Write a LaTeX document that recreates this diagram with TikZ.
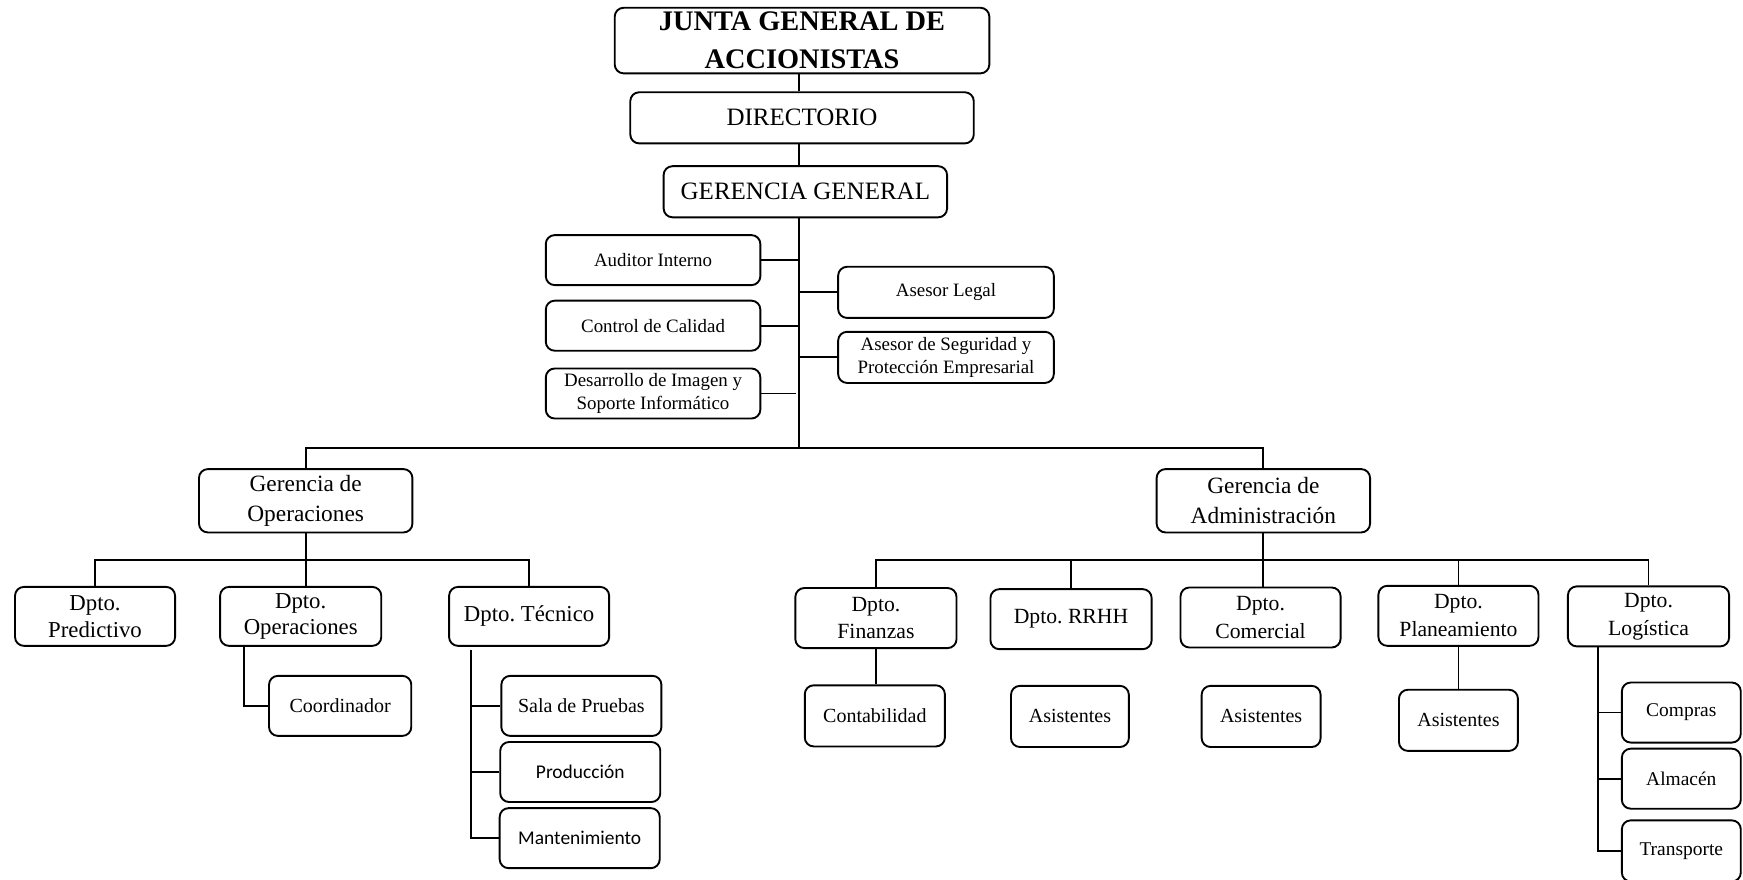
\documentclass[tikz,border=0pt]{standalone}
\usepackage{fontspec}
\setmainfont{Liberation Serif}
\newfontfamily\calibrifont{Carlito}
\usetikzlibrary{calc}
\frenchspacing
\newcommand{\fsz}[2]{\fontsize{#1}{#2}\selectfont\frenchspacing}
\tikzset{
  box/.style={draw, line width=1.7pt, rounded corners=8pt, fill=white, inner sep=0pt, align=center},
  conn/.style={line width=1.7pt},
  sz/.style 2 args={minimum width=#1pt, minimum height=#2pt}
}
\begin{document}
\begin{tikzpicture}[x=1pt,y=-1pt]
\useasboundingbox (0,0) rectangle (1568,791);
\clip (0,0) rectangle (1568,791);
\fill[white] (0,0) rectangle (1568,791);

% top
\node[box, sz={337}{59}, font=\fsz{25.5}{34.5}\bfseries] (junta) at (721.5,36.5) {JUNTA GENERAL DE\\ACCIONISTAS};
\node[box, sz={309}{46}, font=\fsz{22.5}{27}] (dir) at (721.5,106) {DIRECTORIO};
\node[box, sz={255}{46}, font=\fsz{22.5}{27}] (gg) at (724.5,172.5) {GERENCIA GENERAL};

% staff
\node[box, sz={193}{45}, font=\fsz{17}{20}] (aud) at (587.5,234) {Auditor Interno};
\node[box, sz={193}{45}, font=\fsz{17}{20}] (cal) at (587.5,293) {Control de Calidad};
\node[box, sz={193}{45}, font=\fsz{17}{20.5}] (des) at (587.5,354) {Desarrollo de Imagen y\\Soporte Informático};
\node[box, sz={194}{46}, font=\fsz{17}{20}] (legal) at (851,263) {Asesor Legal};
\node[box, sz={194}{46}, font=\fsz{17}{21}] (seg) at (851,321.5) {Asesor de Seguridad y\\Protección Empresarial};

% gerencias
\node[box, sz={192}{57}, font=\fsz{21}{27}] (gop) at (275,450.5) {Gerencia de\\Operaciones};
\node[box, sz={192}{57}, font=\fsz{21}{27}] (gad) at (1136.5,450.5) {Gerencia de\\Administración};

% operaciones
\node[box, sz={144}{53}, font=\fsz{20.5}{24}] (pred) at (85.5,554.5) {Dpto.\\Predictivo};
\node[box, sz={145}{53}, font=\fsz{20.5}{24}] (dops) at (270.5,554.5) {Dpto.\\Operaciones};
\node[box, sz={144}{53}, font=\fsz{20.5}{24}] (tec) at (476,554.5) {Dpto. Técnico};
\node[box, sz={128}{54}, font=\fsz{18}{22}] (coord) at (306,635) {Coordinador};
\node[box, sz={144}{54}, font=\fsz{18}{22}] (sala) at (523,635) {Sala de Pruebas};
\node[box, sz={144}{54}, font=\fsz{17.5}{22}\calibrifont] (prod) at (522,694.5) {Producción};
\node[box, sz={144}{54}, font=\fsz{17.5}{22}\calibrifont] (mant) at (521.5,754) {Mantenimiento};

% administracion
\node[box, sz={145}{54}, font=\fsz{19.5}{25}] (fin) at (788,556) {Dpto.\\Finanzas};
\node[box, sz={145}{54}, font=\fsz{19.5}{25}] (rrhh) at (963.5,557) {Dpto. RRHH};
\node[box, sz={144}{54}, font=\fsz{19.5}{25}] (com) at (1134,555.5) {Dpto.\\Comercial};
\node[box, sz={144}{54}, font=\fsz{19.5}{25}] (plan) at (1312,554) {Dpto.\\Planeamiento};
\node[box, sz={145}{54}, font=\fsz{19.5}{25}] (log) at (1483,554.5) {Dpto.\\Logística};
\node[box, sz={126}{55}, font=\fsz{18}{22}] (cont) at (787,644) {Contabilidad};
\node[box, sz={106}{55}, font=\fsz{18}{22}] (asr) at (962.5,644.5) {Asistentes};
\node[box, sz={107}{55}, font=\fsz{18}{22}] (asc) at (1134.5,644.5) {Asistentes};
\node[box, sz={107}{55}, font=\fsz{18}{22}] (asp) at (1312,648) {Asistentes};
\node[box, sz={107}{54}, font=\fsz{17.5}{22}] (compras) at (1512.5,641) {Compras};
\node[box, sz={107}{54}, font=\fsz{17.5}{22}] (alm) at (1512.5,700.5) {Almacén};
\node[box, sz={107}{55}, font=\fsz{17.5}{22}] (trans) at (1512.5,765.5) {Transporte};

% connectors
\coordinate (spine) at (719,0);
\coordinate (bus1) at (719,403);
\coordinate (obus) at (275,503.5);
\coordinate (abus) at (1136.5,503.5);

\draw[conn] (spine |- junta.south) -- (spine |- dir.north);
\draw[conn] (spine |- dir.south) -- (spine |- gg.north);
\draw[conn] (spine |- gg.south) -- (bus1);
\draw[conn] (aud.east) -- (spine |- aud.east);
\draw[conn] (cal.east) -- (spine |- cal.east);
\draw[conn] (des.east) -- ($(spine |- des.east)+(-3,0)$);
\draw[conn] (spine |- legal.west) -- (legal.west);
\draw[conn] (spine |- seg.west) -- (seg.west);
\draw[conn] (gop.north) |- (bus1) -| (gad.north);

\draw[conn] (gop.south) -- (gop.south |- dops.north);
\draw[conn] (pred.north) |- (obus) -| (tec.north);
\draw[conn] ($(dops.south west)+(22,0)$) |- (coord.west);
\coordinate (tv) at ($(tec.south west)+(20.5,3)$);
\draw[conn] (tv) |- (mant.west);
\draw[conn] (tv |- sala.west) -- (sala.west);
\draw[conn] (tv |- prod.west) -- (prod.west);

\draw[conn] (gad.south) -- (gad.south |- com.north);
\draw[conn] (fin.north) |- (abus) -| (log.north);
\draw[conn] (rrhh.north) -- (rrhh.north |- abus);
\draw[conn] (plan.north) -- (plan.north |- abus);
\draw[conn] (fin.south) -- (fin.south |- cont.north);
\draw[conn] (plan.south) -- (plan.south |- asp.north);
\coordinate (lv) at ($(log.south west)+(27.5,0)$);
\draw[conn] (lv) |- (trans.west);
\draw[conn] (lv |- compras.west) -- (compras.west);
\draw[conn] (lv |- alm.west) -- (alm.west);
\end{tikzpicture}
\end{document}
